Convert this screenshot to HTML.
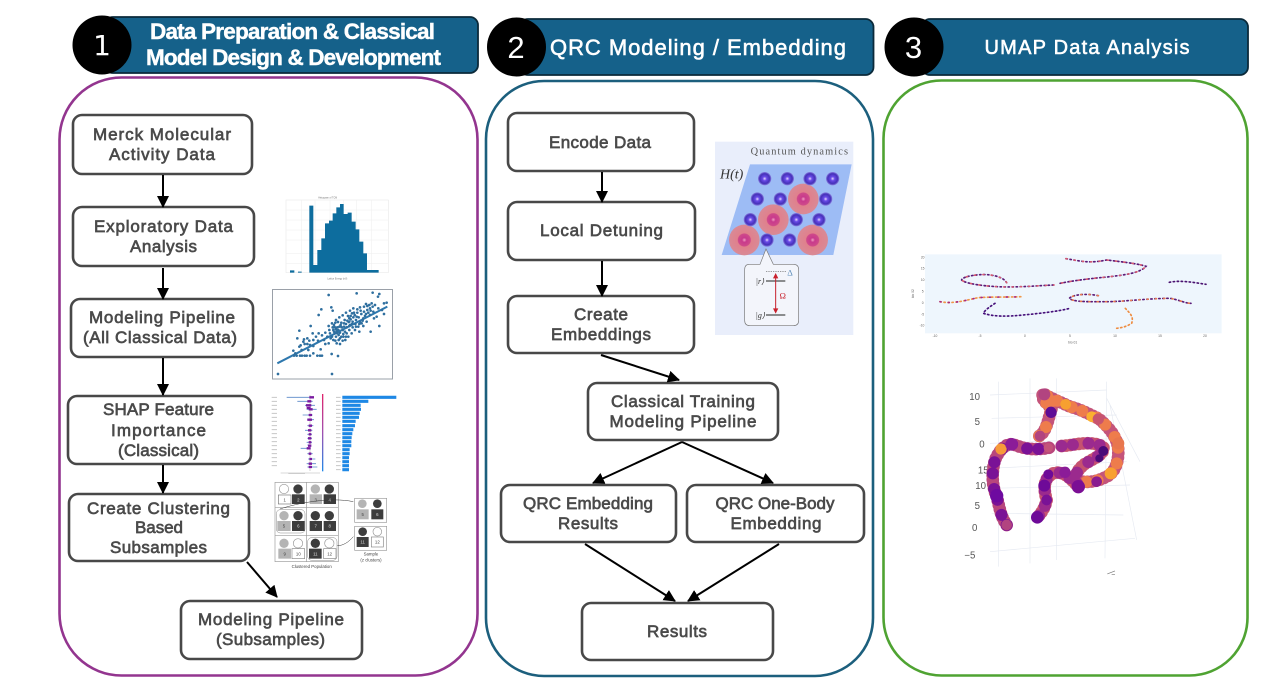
<!DOCTYPE html>
<html><head><meta charset="utf-8"><title>QRC workflow</title>
<style>
html,body{margin:0;padding:0;background:#fff;width:1271px;height:690px;overflow:hidden}
svg{display:block}
.b{fill:#fff;stroke:#484848;stroke-width:2.6}
.t{font:17px "Liberation Sans",sans-serif;fill:#4a4a4a;stroke:#4a4a4a;stroke-width:.65;text-anchor:middle}
.h{font:22px "Liberation Sans",sans-serif;fill:#fff;stroke:#fff;stroke-width:.55;text-anchor:middle}
.hh{font:bold 22.5px "Liberation Sans",sans-serif;fill:#fff;stroke:#fff;stroke-width:.4;text-anchor:middle}
.n{font:31px "Liberation Sans",sans-serif;fill:#fff;text-anchor:middle}
.a{stroke:#000;stroke-width:2;fill:none;marker-end:url(#m)}
.hd{fill:#15618a;stroke:#0b2a3a;stroke-width:1.8}
.sm{font:10px "Liberation Sans",sans-serif;fill:#777}
.tb{fill:none;stroke-linecap:round}
.im{filter:blur(.45px)}
</style></head><body>
<svg width="1271" height="690" viewBox="0 0 1271 690" xmlns="http://www.w3.org/2000/svg">
<defs>
<marker id="m" markerUnits="userSpaceOnUse" markerWidth="13" markerHeight="12" refX="11" refY="6" orient="auto"><path d="M0,0L12,6L0,12z" fill="#000"/></marker>
<radialGradient id="atom"><stop offset="0" stop-color="#e6dcff"/><stop offset=".3" stop-color="#6a4be8"/><stop offset=".75" stop-color="#4530b8"/><stop offset="1" stop-color="#8a80e0"/></radialGradient>
<radialGradient id="ryd"><stop offset="0" stop-color="#f2a0c0"/><stop offset=".15" stop-color="#c83a8c"/><stop offset=".4" stop-color="#cf4a8a"/><stop offset=".45" stop-color="#e0808c"/><stop offset="1" stop-color="#d98a96"/></radialGradient>
<linearGradient id="cb" x1="0" y1="0" x2="0" y2="1"><stop offset="0" stop-color="#e0246c"/><stop offset=".5" stop-color="#a050b0"/><stop offset="1" stop-color="#2088e8"/></linearGradient>
</defs>

<!-- panels -->
<rect x="59.5" y="77.5" width="418" height="598" rx="62" fill="#fff" stroke="#93358f" stroke-width="2.6"/>
<rect x="486" y="81" width="387" height="595" rx="58" fill="#fff" stroke="#1c5f7d" stroke-width="2.6"/>
<rect x="883.5" y="80.5" width="364" height="595" rx="58" fill="#fff" stroke="#4fa332" stroke-width="2.6"/>

<!-- headers -->
<rect class="hd" x="105" y="17" width="373" height="56" rx="8"/>
<circle cx="102" cy="45" r="29.5" fill="#000"/>
<text x="102" y="55" style="font:28px 'DejaVu Sans',sans-serif;fill:#fff;text-anchor:middle">1</text>
<text class="hh" x="292.5" y="39" textLength="285">Data Preparation &amp; Classical</text>
<text class="hh" x="293.5" y="65" textLength="295">Model Design &amp; Development</text>

<rect class="hd" x="520" y="19" width="353.5" height="56" rx="8"/>
<circle cx="516.5" cy="47" r="29.5" fill="#000"/>
<text class="n" x="516" y="58">2</text>
<text class="h" x="698" y="55" textLength="296">QRC Modeling / Embedding</text>

<rect class="hd" x="922" y="19" width="326" height="56" rx="8"/>
<circle cx="914" cy="47" r="29.5" fill="#000"/>
<text class="n" x="913.5" y="58">3</text>
<text class="h" style="font-size:20px" x="1087" y="54" textLength="205">UMAP Data Analysis</text>

<!-- column 1 boxes -->
<rect class="b" x="73" y="115" width="179" height="59" rx="9"/>
<text class="t" x="162" y="140" textLength="138">Merck Molecular</text>
<text class="t" x="162" y="160" textLength="106">Activity Data</text>
<rect class="b" x="73" y="207" width="181" height="59" rx="9"/>
<text class="t" x="163.5" y="232" textLength="139">Exploratory Data</text>
<text class="t" x="163.5" y="252" textLength="67">Analysis</text>
<rect class="b" x="71" y="299" width="182" height="58" rx="9"/>
<text class="t" x="162" y="323" textLength="146">Modeling Pipeline</text>
<text class="t" x="160" y="343" textLength="154">(All Classical Data)</text>
<rect class="b" x="68" y="396" width="183" height="68" rx="9"/>
<text class="t" x="158.5" y="415" textLength="111">SHAP Feature</text>
<text class="t" x="158.5" y="436" textLength="95">Importance</text>
<text class="t" x="158.5" y="456" textLength="81">(Classical)</text>
<rect class="b" x="69" y="494" width="180" height="67" rx="9"/>
<text class="t" x="158.5" y="514" textLength="143">Create Clustering</text>
<text class="t" x="159" y="533" textLength="48">Based</text>
<text class="t" x="158.5" y="553" textLength="97">Subsamples</text>
<rect class="b" x="181" y="601" width="181" height="58" rx="9"/>
<text class="t" x="271" y="625" textLength="146">Modeling Pipeline</text>
<text class="t" x="270.5" y="645" textLength="109">(Subsamples)</text>

<path class="a" d="M163,175V207"/>
<path class="a" d="M163,268V299"/>
<path class="a" d="M163,358V395"/>
<path class="a" d="M163,465V493"/>
<path class="a" d="M247,562L277,597"/>

<!-- column 2 boxes -->
<rect class="b" x="508" y="113" width="186" height="58" rx="9"/>
<text class="t" x="600" y="148" textLength="102">Encode Data</text>
<rect class="b" x="508" y="202" width="187" height="58" rx="9"/>
<text class="t" x="601.5" y="236" textLength="123">Local Detuning</text>
<rect class="b" x="508" y="296" width="186" height="57" rx="9"/>
<text class="t" x="601" y="320" textLength="54">Create</text>
<text class="t" x="601" y="340" textLength="100">Embeddings</text>
<rect class="b" x="588" y="383" width="190" height="57" rx="9"/>
<text class="t" x="683" y="407" textLength="144">Classical Training</text>
<text class="t" x="683" y="427" textLength="147">Modeling Pipeline</text>
<rect class="b" x="501" y="485" width="175" height="57" rx="9"/>
<text class="t" x="588" y="509" textLength="130">QRC Embedding</text>
<text class="t" x="588" y="529" textLength="60">Results</text>
<rect class="b" x="687" y="485" width="177" height="57" rx="9"/>
<text class="t" x="775" y="509" textLength="119">QRC One-Body</text>
<text class="t" x="776" y="529" textLength="91">Embedding</text>
<rect class="b" x="582" y="603" width="191" height="57" rx="9"/>
<text class="t" x="677" y="637" textLength="60">Results</text>

<path class="a" d="M602,172V202"/>
<path class="a" d="M602,261V296"/>
<path class="a" d="M601,355L679,380"/>
<path class="a" d="M682,442L593,483"/>
<path class="a" d="M682,442L773,483"/>
<path class="a" d="M585,544L675,601"/>
<path class="a" d="M779,544L688,601"/>

<!-- histogram -->
<g class="im" transform="translate(260,190) scale(.3333)">
<rect x="65" y="20" width="335" height="255" fill="#fff"/>
<rect x="78" y="30" width="307" height="218" fill="none" stroke="#e4e4e4" stroke-width="1.5"/>
<path d="M78,60H385M78,90H385M78,120H385M78,150H385M78,190H385M78,220H385M125,30V248M165,30V248M210,30V248M250,30V248M290,30V248M335,30V248" stroke="#eee" stroke-width="1.5"/>
<path d="M90,248V241H103V248zM114,248V245H125V248zM148,248V47H160V225H172V180H184V145H195V100H207V92H218V70H229V52H240V42H251V72H263V68H275V95H287V118H298V155H310V190H321V240H356V248z" fill="#0d6d9e"/>
<text class="sm" x="203" y="25" style="font-size:7px" text-anchor="middle">Histogram of TCM</text>
<text class="sm" x="232" y="268" style="font-size:7px" text-anchor="middle">Lattice Energy (eV)</text>
</g>

<!-- scatter -->
<rect x="272.5" y="289.5" width="120" height="89.5" fill="#fff" stroke="#9aa0a8" stroke-width="1"/>
<g class="im" transform="translate(260,190) scale(.3333)">
<path d="M52,520L382,350" stroke="#2e78ae" stroke-width="6" fill="none"/>
<path d="M54,552h0M216,552h0M206,315h0M290,310h0M338,308h0M354,320h0M358,312h0M184,358h0M214,352h0M218,362h0M118,422h0M152,408h0M176,375h0M112,445h0M130,455h0M100,482h0M118,470h0M134,462h0M142,462h0M150,465h0M160,450h0M168,440h0M176,430h0M186,436h0M196,428h0M206,408h0M216,400h0M228,390h0M238,382h0M248,376h0M258,368h0M270,362h0M280,355h0M300,352h0M318,342h0M328,345h0M338,350h0M372,340h0M380,338h0M366,360h0M372,372h0M358,408h0M332,425h0M310,408h0M298,425h0M268,408h0M256,450h0M234,498h0M215,492h0M206,460h0M196,462h0M182,478h0M160,490h0M145,480h0M120,497h0M110,497h0M102,497h0M126,497h0M134,497h0M140,497h0M150,497h0M172,497h0M180,497h0M186,497h0M220,420h0M224,430h0M230,425h0M236,435h0M228,440h0M240,428h0M248,420h0M244,440h0M236,450h0M226,452h0M252,410h0M258,402h0M266,396h0M272,388h0M280,382h0M288,390h0M296,382h0M304,372h0M312,365h0M322,360h0M330,375h0M340,365h0M350,380h0M286,402h0M278,412h0M268,420h0M260,430h0M250,432h0M232,412h0M222,405h0M216,440h0M210,430h0M292,368h0M300,395h0M276,370h0M284,375h0M264,378h0M254,390h0M244,398h0M238,410h0M228,418h0M240,445h0M248,452h0M260,412h0M270,405h0M310,385h0M320,395h0M330,355h0M342,385h0M122,466h0M106,490h0M142,445h0M158,430h0M174,452h0M192,450h0M225,412h0M235,420h0M245,412h0M255,425h0M265,440h0M275,430h0M285,420h0M295,410h0M305,400h0M315,378h0M325,368h0M335,340h0M345,345h0M355,355h0M290,380h0M278,395h0M268,385h0M232,430h0M222,425h0M218,412h0M242,405h0M252,400h0M262,392h0M272,378h0M282,368h0M292,358h0M302,362h0M312,350h0M322,348h0M332,362h0M220,450h0M230,460h0M240,462h0M212,445h0M202,440h0M208,420h0M226,398h0M234,396h0M250,440h0M258,440h0M268,395h0M276,402h0M288,410h0M298,402h0M308,392h0M318,372h0M160,468h0M148,452h0M132,448h0M125,480h0" stroke="#2f6f9f" stroke-width="8" stroke-linecap="round" fill="none"/>
</g>

<!-- SHAP -->
<g class="im" transform="translate(260,385) scale(.3333)">
<rect x="20" y="20" width="400" height="270" fill="#fff"/>
<path d="M150,30V258" stroke="#bbb" stroke-width="2"/>
<rect x="186" y="27" width="4" height="232" fill="url(#cb)"/>
<path d="M247,37h162M247,49h78M247,61h55M247,73h56M247,85h52M247,97h50M247,109h40M247,122h38M247,134h33M247,146h30M247,158h28M247,170h27M247,182h27M247,194h22M247,206h22M247,218h20M247,230h20M247,242h20M247,254h20" stroke="#1e88e5" stroke-width="9.5"/>
<path d="M35,37h16M35,49h16M35,61h16M35,73h16M35,85h16M35,97h16M35,109h16M35,122h16M35,134h16M35,146h16M35,158h16M35,170h16M35,182h16M35,194h16M35,206h16M35,218h16M35,230h16M35,242h16M228,37h14M228,49h14M228,61h14M228,73h14M228,85h14M228,97h14M228,109h14M228,122h14M228,134h14M228,146h14M228,158h14M228,170h14M228,182h14M228,194h14M228,206h14M228,218h14M228,230h14M228,242h14M228,254h14" stroke="#c8c8c8" stroke-width="3"/>
<path d="M80,37h80M112,49h46M135,61h30M140,73h30M128,90h30M142,104h20M142,122h18M135,136h22M142,148h14M142,160h14M140,172h16M142,180h12M122,190h30M142,206h16M144,222h22M140,236h28M142,246h30" stroke="#5a88c8" stroke-width="2.5"/>
<path d="M148,37h14M142,49h12M138,61h16M140,69h12M146,73h12M146,90h10M142,104h14M146,122h10M144,136h10M146,148h8M144,160h10M146,172h8M144,182h10M140,190h12M146,206h8M148,222h8M146,236h10M146,246h10" stroke="#7a1aa0" stroke-width="7"/>
<path d="M62,264H180" stroke="#d8d8d8" stroke-width="3"/>
<rect x="85" y="264" width="50" height="3" fill="#ccc"/>
</g>

<!-- cluster figure -->
<g class="im" transform="translate(260,385) scale(.3333)" font-family="Liberation Sans,sans-serif" font-size="13" text-anchor="middle" fill="#444">
<rect x="42" y="288" width="350" height="278" fill="#fff"/>
<rect x="45" y="292" width="190" height="238" fill="#fff" stroke="#9a9a9a" stroke-width="2"/>
<path d="M140,292V530M45,368H235M45,452H235" stroke="#9a9a9a" stroke-width="2"/>
<circle cx="72" cy="312" r="14" fill="#fff" stroke="#999" stroke-width="2"/><circle cx="114" cy="312" r="14" fill="#3d3d3d"/>
<rect x="55" y="330" width="38" height="27" fill="#fff" stroke="#777" stroke-width="2"/><rect x="96" y="328" width="38" height="29" fill="#3d3d3d"/>
<text x="74" y="349">1</text><text x="115" y="349" fill="#ddd">2</text>
<circle cx="166" cy="312" r="14" fill="#b4b4b4"/><circle cx="208" cy="312" r="14" fill="#3d3d3d"/>
<rect x="149" y="328" width="37" height="29" fill="#b4b4b4"/><rect x="191" y="328" width="37" height="29" fill="#3d3d3d"/>
<text x="167" y="349">3</text><text x="209" y="349" fill="#ddd">4</text>
<rect x="49" y="374" width="86" height="70" rx="12" fill="#fff" stroke="#888" stroke-width="1.5"/>
<circle cx="72" cy="392" r="14" fill="#b4b4b4"/><circle cx="114" cy="392" r="14" fill="#3d3d3d"/>
<rect x="52" y="408" width="40" height="30" fill="#b4b4b4"/><rect x="96" y="408" width="38" height="30" fill="#3d3d3d"/>
<text x="72" y="428">5</text><text x="115" y="428" fill="#ddd">6</text>
<circle cx="166" cy="392" r="14" fill="#3d3d3d"/><circle cx="208" cy="392" r="14" fill="#3d3d3d"/>
<rect x="149" y="408" width="37" height="30" fill="#3d3d3d"/><rect x="191" y="408" width="37" height="30" fill="#3d3d3d"/>
<text x="167" y="428" fill="#ddd">7</text><text x="209" y="428" fill="#ddd">8</text>
<circle cx="72" cy="475" r="14" fill="#b4b4b4"/><circle cx="114" cy="475" r="14" fill="#fff" stroke="#999" stroke-width="2"/>
<rect x="55" y="491" width="38" height="30" fill="#b4b4b4"/><rect x="96" y="491" width="38" height="30" fill="#fff" stroke="#888" stroke-width="2"/>
<text x="74" y="511">9</text><text x="115" y="511">10</text>
<rect x="143" y="458" width="88" height="68" rx="12" fill="#fff" stroke="#888" stroke-width="1.5"/>
<circle cx="166" cy="475" r="14" fill="#3d3d3d"/><circle cx="208" cy="475" r="14" fill="#fff" stroke="#999" stroke-width="2"/>
<rect x="147" y="491" width="38" height="30" fill="#3d3d3d"/><rect x="191" y="491" width="37" height="30" fill="#fff" stroke="#888" stroke-width="2"/>
<text x="166" y="511" fill="#ddd">11</text><text x="209" y="511">12</text>
<rect x="284" y="340" width="96" height="72" fill="#fff" stroke="#9a9a9a" stroke-width="2"/>
<circle cx="307" cy="356" r="13" fill="#b4b4b4"/><circle cx="352" cy="356" r="13" fill="#3d3d3d"/>
<rect x="290" y="373" width="36" height="30" fill="#b4b4b4"/><rect x="334" y="373" width="36" height="30" fill="#3d3d3d"/>
<text x="308" y="393">5</text><text x="352" y="393" fill="#ddd">6</text>
<rect x="284" y="424" width="96" height="72" fill="#fff" stroke="#9a9a9a" stroke-width="2"/>
<circle cx="308" cy="440" r="13" fill="#3d3d3d"/><circle cx="352" cy="440" r="13" fill="#fff" stroke="#999" stroke-width="2"/>
<rect x="290" y="456" width="36" height="30" fill="#3d3d3d"/><rect x="334" y="456" width="36" height="30" fill="#fff" stroke="#888" stroke-width="2"/>
<text x="308" y="476" fill="#ddd">11</text><text x="352" y="476">12</text>
<path d="M60,372C110,355 210,335 280,350M232,482C250,482 265,472 280,455" fill="none" stroke="#333" stroke-width="1.5"/>
<text x="155" y="549" font-size="13">Clustered Population</text>
<text x="333" y="512" font-size="13">Sample</text>
<text x="333" y="530" font-size="13">(z clusters)</text>
</g>

<!-- Quantum dynamics -->
<g class="im" transform="translate(710,135) scale(.3333)">
<rect x="15" y="20" width="415" height="580" fill="#e9eefb"/>
<path d="M120,88H425L370,360H35z" fill="#9dbcf5"/>
<text x="268" y="58" font-family="Liberation Serif,serif" font-size="31" fill="#555" text-anchor="middle" textLength="292">Quantum dynamics</text>
<text x="65" y="130" font-family="Liberation Serif,serif" font-style="italic" font-size="42" fill="#333" text-anchor="middle">H(t)</text>
<circle cx="280" cy="192" r="46" fill="url(#ryd)"/><circle cx="190" cy="254" r="46" fill="url(#ryd)"/><circle cx="103" cy="315" r="46" fill="url(#ryd)"/><circle cx="308" cy="315" r="46" fill="url(#ryd)"/>
<g fill="url(#atom)">
<circle cx="164" cy="131" r="20"/><circle cx="232" cy="131" r="20"/><circle cx="300" cy="131" r="20"/><circle cx="368" cy="131" r="20"/>
<circle cx="142" cy="192" r="20"/><circle cx="211" cy="192" r="20"/><circle cx="347" cy="192" r="20"/>
<circle cx="121" cy="254" r="20"/><circle cx="259" cy="254" r="20"/><circle cx="327" cy="254" r="20"/>
<circle cx="171" cy="315" r="20"/><circle cx="239" cy="315" r="20"/>
</g>
<path d="M118,388H150L168,342L190,388H250Q266,388 266,404V556Q266,572 250,572H120Q104,572 104,556V404Q104,388 118,388z" fill="#f3f5fb" stroke="#777" stroke-width="2"/>
<path d="M168,410H228" stroke="#666" stroke-width="2" stroke-dasharray="4 3"/>
<path d="M168,438H226M168,540H226" stroke="#222" stroke-width="3"/>
<path d="M197,425V525" stroke="#c8202c" stroke-width="3"/>
<path d="M197,414l-8,16h16zM197,536l-8,-16h16z" fill="#c8202c"/>
<text x="240" y="422" font-family="Liberation Serif,serif" font-size="26" fill="#5a8ab8" text-anchor="middle">Δ</text>
<text x="218" y="490" font-family="Liberation Serif,serif" font-size="26" fill="#c8202c" text-anchor="middle">Ω</text>
<text x="150" y="447" font-family="Liberation Serif,serif" font-style="italic" font-size="24" fill="#333" text-anchor="middle">|r⟩</text>
<text x="151" y="549" font-family="Liberation Serif,serif" font-style="italic" font-size="24" fill="#333" text-anchor="middle">|g⟩</text>
</g>

<!-- UMAP 2D -->
<g class="im" transform="translate(910,245) scale(.3333)">
<rect x="45" y="28" width="890" height="237" fill="#eef6fd"/>
<g stroke-width="5" class="tb" stroke-dasharray="4 8">
<path stroke="#5a1a78" d="M468,41C520,50 540,55 590,45C630,50 680,55 708,64C690,85 640,90 600,95C550,100 500,105 450,115"/>
<path stroke="#5a1a78" d="M290,113C280,95 240,85 200,90C170,93 155,100 155,105C165,115 210,122 260,125C320,128 380,122 432,120"/>
<path stroke="#f0984a" d="M90,170C130,178 170,165 205,158C250,155 300,157 335,155"/>
<path stroke="#46107a" d="M255,175C240,185 225,195 220,205C250,215 290,215 340,210C390,205 440,200 480,190"/>
<path stroke="#5a1a78" d="M565,152C530,145 490,148 478,160C490,172 540,170 600,170C660,168 720,160 780,160C810,165 825,175 843,175"/>
<path stroke="#4a1270" d="M778,112C810,105 850,112 888,118"/>
<path stroke="#ee8c40" d="M646,190C660,205 672,215 665,235C650,245 635,248 620,250"/>
</g>
<g stroke-width="5" class="tb" stroke-dasharray="3 22">
<path stroke="#d65a70" d="M468,41C520,50 540,55 590,45C630,50 680,55 708,64C690,85 640,90 600,95C550,100 500,105 450,115"/>
<path stroke="#d65a70" d="M290,113C280,95 240,85 200,90C170,93 155,100 155,105C165,115 210,122 260,125C320,128 380,122 432,120"/>
<path stroke="#a82a80" d="M90,170C130,178 170,165 205,158C250,155 300,157 335,155"/>
<path stroke="#e87a50" d="M565,152C530,145 490,148 478,160C490,172 540,170 600,170C660,168 720,160 780,160C810,165 825,175 843,175"/>
</g>
<g font-family="Liberation Sans,sans-serif" font-size="10" fill="#666" text-anchor="middle">
<text x="38" y="40">20</text><text x="38" y="74">15</text><text x="38" y="108">10</text><text x="38" y="142">5</text><text x="38" y="177">0</text><text x="38" y="211">-5</text><text x="36" y="245">-10</text>
<text x="75" y="276">-10</text><text x="210" y="276">-5</text><text x="345" y="276">0</text><text x="480" y="276">5</text><text x="615" y="276">10</text><text x="750" y="276">15</text><text x="885" y="276">20</text>
<text x="488" y="296">bio 01</text>
<text x="8" y="150" transform="rotate(-90 8 146)">bio 02</text>
</g>
</g>

<!-- UMAP 3D -->
<g class="im" transform="translate(950,375) scale(.3333)">
<g stroke="#e6eaf2" stroke-width="2" fill="none">
<path d="M120,60L470,45M125,130L500,120M120,205L520,190M120,280L530,260M120,340L540,330M125,415L520,420M120,530L555,490"/>
<path d="M145,20V575M240,10V565M320,10V555M470,20L465,550M470,70L570,260M480,90L560,495"/>
</g>
<g font-family="Liberation Sans,sans-serif" font-size="29" fill="#555" text-anchor="end">
<text x="90" y="75">10</text><text x="90" y="150">5</text><text x="104" y="217">0</text>
<text x="116" y="295">15</text><text x="108" y="342">10</text><text x="90" y="402">5</text><text x="82" y="468">0</text><text x="76" y="550">−5</text>
</g>
<path d="M472,597L495,588M485,598h10" stroke="#777" stroke-width="2" fill="none"/>
<g class="tb" stroke-width="38" stroke-dasharray="0 13">
<path stroke="#c4547a" d="M268,183C290,170 295,130 305,100C290,85 270,70 280,55C300,70 330,80 360,95C400,105 430,125 445,130C480,160 505,190 505,230C505,270 490,295 470,305C440,320 420,322 395,320"/>
<path stroke="#b8467c" d="M170,450C150,420 150,400 140,365C125,330 125,290 135,255C150,220 170,205 190,208C230,225 260,225 300,218"/>
<path stroke="#c65270" d="M335,213C380,210 420,195 460,215C465,240 430,250 400,270C380,290 370,300 385,335C360,310 340,285 310,295C280,310 280,340 290,375C285,400 270,420 262,427"/>
</g>
<g class="tb" stroke-width="36" stroke-dasharray="0 34 0 47">
<path stroke="#ee7c4c" d="M268,183C290,170 295,130 305,100C290,85 270,70 280,55C300,70 330,80 360,95C400,105 430,125 445,130C480,160 505,190 505,230C505,270 490,295 470,305C440,320 420,322 395,320"/>
<path stroke="#7a1296" d="M170,450C150,420 150,400 140,365C125,330 125,290 135,255C150,220 170,205 190,208C230,225 260,225 300,218"/>
<path stroke="#9b2a8e" d="M335,213C380,210 420,195 460,215C465,240 430,250 400,270C380,290 370,300 385,335C360,310 340,285 310,295C280,310 280,340 290,375C285,400 270,420 262,427"/>
</g>
<g>
<circle cx="283" cy="58" r="18" fill="#b24480"/><circle cx="312" cy="78" r="17" fill="#ee7c4c"/><circle cx="303" cy="112" r="17" fill="#5e0c96"/><circle cx="270" cy="183" r="16" fill="#b24480"/>
<circle cx="347" cy="88" r="16" fill="#f7a030"/><circle cx="425" cy="125" r="16" fill="#fbb030"/><circle cx="445" cy="132" r="17" fill="#c8546e"/><circle cx="505" cy="205" r="18" fill="#e8764e"/>
<circle cx="482" cy="295" r="18" fill="#f8a030"/><circle cx="440" cy="320" r="16" fill="#8a1c90"/><circle cx="153" cy="222" r="17" fill="#f79a3a"/><circle cx="185" cy="208" r="19" fill="#8b1c98"/>
<circle cx="140" cy="362" r="20" fill="#6e0aa0"/><circle cx="385" cy="335" r="20" fill="#7b0f94"/><circle cx="262" cy="427" r="19" fill="#6e0a98"/><circle cx="170" cy="450" r="16" fill="#b24480"/>
<circle cx="335" cy="214" r="16" fill="#9a2a90"/><circle cx="295" cy="218" r="14" fill="#c4547a"/><circle cx="460" cy="228" r="15" fill="#4a0a78"/><circle cx="448" cy="250" r="12" fill="#4a0a78"/>
<circle cx="283" cy="332" r="18" fill="#6e0a98"/><circle cx="295" cy="298" r="15" fill="#6e0a98"/><circle cx="345" cy="292" r="17" fill="#8b1c98"/><circle cx="290" cy="375" r="16" fill="#7a1296"/>
</g>
</g>
</svg>
</body></html>
